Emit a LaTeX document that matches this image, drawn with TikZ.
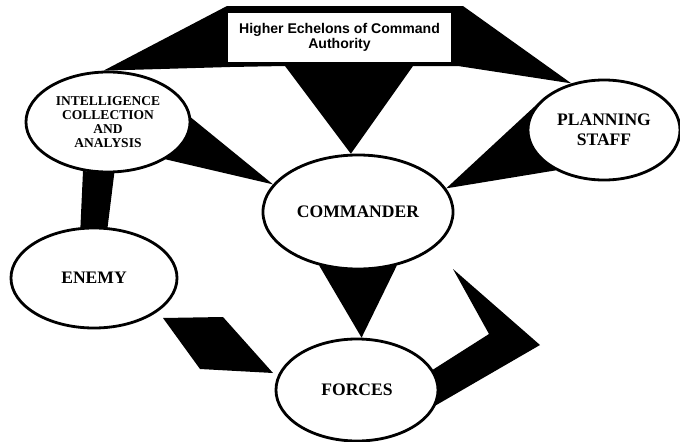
\documentclass[tikz,border=0pt]{standalone}
\usepackage{fontspec}
\setmainfont{Liberation Serif}
\setsansfont{Liberation Sans}
\usetikzlibrary{shapes.geometric}
\usetikzlibrary{backgrounds}
\tikzset{%
    unit/.style={shape=ellipse,draw,line width=2pt,fill=white,inner sep=0pt,align=center,font=\bfseries\fontsize{12.5}{14}\selectfont},
    small unit/.style={unit,font=\bfseries\fontsize{9.6}{10}\selectfont},
    authority/.style={shape=rectangle,fill=white,inner sep=0pt,align=center,font=\sffamily\bfseries\fontsize{10}{11}\selectfont},
    link/.style={fill=black},
}
\begin{document}
\begin{tikzpicture}[x=0.025cm,y=-0.025cm]
        \useasboundingbox (0,0) rectangle (680,442);
        \node[authority,minimum width=5.575cm,minimum height=1.225cm] (hq) at (339.5,37.5) {Higher Echelons of Command\\Authority};
        \node[small unit,minimum width=4.1cm,minimum height=2.5cm] (intel) at (108,122) {INTELLIGENCE\\COLLECTION\\AND\\ANALYSIS};
        \node[unit,minimum width=3.8cm,minimum height=2.5cm] (plan) at (604,130) {PLANNING\\STAFF};
        \node[unit,minimum width=4.75cm,minimum height=2.85cm] (cmd) at (358,212) {COMMANDER};
        \node[unit,minimum width=4.15cm,minimum height=2.5cm] (enemy) at (94,278) {ENEMY};
        \node[unit,minimum width=4.05cm,minimum height=2.55cm] (forces) at (357,390) {FORCES};

        \begin{scope}[on background layer]
        % authority band and its links
        \fill[link] (intel.95) -- (227,6) -- (463,6) -- (plan.125) -- (458,66) -- (413,66) -- (cmd.97) -- (285,66) -- (230,67) -- cycle;
        \fill[link] (intel.3) -- (cmd.162) -- (intel.-33) -- cycle;
        \fill[link] (plan.150) -- (cmd.15) -- (plan.-140) -- cycle;
        \fill[link] (intel.-117) -- (intel.-83) -- (enemy.75) -- (enemy.105) -- cycle;
        \fill[link] (cmd.-126) -- (cmd.-54) -- (forces.85) -- cycle;
        \fill[link] (163,318) -- (223,317) -- (273,373) -- (200,369) -- cycle;
        \coordinate (back) at (453,269);
        \fill[link] (back) -- (540,345) -- (forces.-11) -- (forces.15) -- (489,334) -- cycle;
        \end{scope}
\end{tikzpicture}
\end{document}
